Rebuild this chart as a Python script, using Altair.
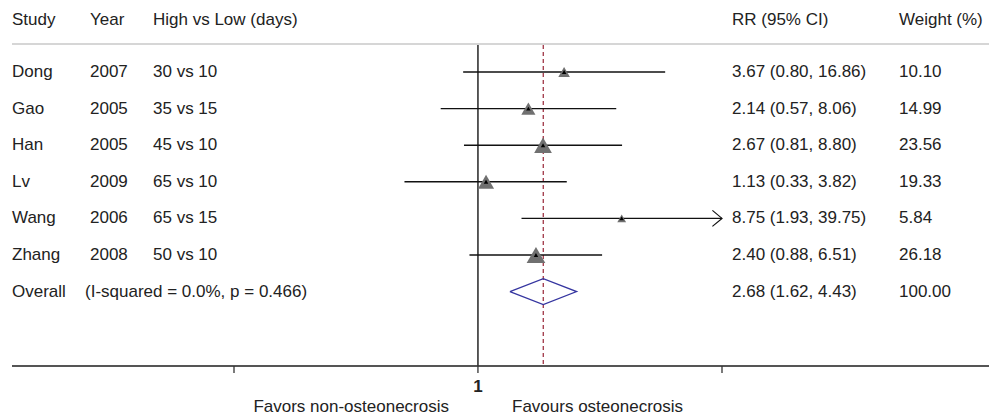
import altair as alt
import pandas as pd

# ---- data ----
study = ["Dong", "Gao", "Han", "Lv", "Wang", "Zhang"]
year = ["2007", "2005", "2005", "2009", "2006", "2008"]
compare = ["30 vs 10", "35 vs 15", "45 vs 10", "65 vs 10", "65 vs 15", "50 vs 10"]
rr = [3.67, 2.14, 2.67, 1.13, 8.75, 2.40]
lo = [0.80, 0.57, 0.81, 0.33, 1.93, 0.88]
hi = [16.86, 8.06, 8.80, 3.82, 39.75, 6.51]
weight = [10.10, 14.99, 23.56, 19.33, 5.84, 26.18]

overall_rr = [2.68]
overall_lo = [1.62]
overall_hi = [4.43]
overall_weight = [100.00]
overall_label = ["Overall", "(I-squared = 0.0%, p = 0.466)"]

tick_values = [0.0252, 1.0, 39.75]
tick_labels = ["", "1", ""]
favor_labels = ["Favors non-osteonecrosis", "Favours osteonecrosis"]
headers = ["Study", "Year", "High vs Low (days)", "RR (95% CI)", "Weight (%)"]

# ---- tables ----
rows = list(range(1, len(study) + 1))
overall_row = len(study) + 1

df = pd.DataFrame({
    "study": study, "year": year, "compare": compare,
    "rr": rr, "lo": lo, "hi": hi, "weight": weight, "row": rows,
})
df["rr_text"] = [f"{a:.2f} ({b:.2f}, {c:.2f})" for a, b, c in zip(rr, lo, hi)]
df["w_text"] = [f"{w:.2f}" for w in weight]

ov = pd.DataFrame({
    "rr": overall_rr, "lo": overall_lo, "hi": overall_hi,
    "row": [overall_row],
    "rr_text": [f"{overall_rr[0]:.2f} ({overall_lo[0]:.2f}, {overall_hi[0]:.2f})"],
    "w_text": [f"{overall_weight[0]:.2f}"],
    "lab1": [overall_label[0]], "lab2": [overall_label[1]],
})

half = 0.355
diamond = pd.DataFrame({
    "x": [overall_lo[0], overall_rr[0], overall_hi[0], overall_rr[0], overall_lo[0]],
    "row": [overall_row, overall_row - half, overall_row, overall_row + half, overall_row],
    "ord": [0, 1, 2, 3, 4],
})

ticks = pd.DataFrame({"x": tick_values, "label": tick_labels})
nullline = pd.DataFrame({"x": [1.0]})

xscale = alt.Scale(type="log", domain=[tick_values[0], tick_values[-1]], range=[234, 722], nice=False)
yscale = alt.Scale(domain=[1, 7], range=[72, 291.6], nice=False, zero=False)

FONT = "Liberation Sans"
FS = 17
TC = "#222222"

def X(f):
    return alt.X(f"{f}:Q", scale=xscale, axis=None)

def Y(f="row"):
    return alt.Y(f"{f}:Q", scale=yscale, axis=None)

base = alt.Chart(df)

header_line = alt.Chart(nullline).mark_rule(color="#c8c8c8", strokeWidth=1.5).encode(
    x=alt.value(12), x2=alt.value(989), y=alt.value(44))
axis_line = alt.Chart(nullline).mark_rule(color="#555555", strokeWidth=2).encode(
    x=alt.value(12), x2=alt.value(989), y=alt.value(366))
tick_marks = alt.Chart(ticks).mark_rule(color="#333333", strokeWidth=1.3).encode(
    x=X("x"), y=alt.value(366), y2=alt.value(373))
tick_text = alt.Chart(ticks).mark_text(font=FONT, fontSize=FS, color=TC, baseline="middle", fontWeight="bold").encode(
    x=X("x"), y=alt.value(387), text="label:N")
null_rule = alt.Chart(nullline).mark_rule(color="#333333", strokeWidth=1.6).encode(
    x=X("x"), y=alt.value(45), y2=alt.value(366))
dash_rule = alt.Chart(ov).mark_rule(color="#a03545", strokeWidth=1.3, strokeDash=[4, 3]).encode(
    x=X("rr"), y=alt.value(45), y2=alt.value(366))

ci = base.mark_rule(color="#111111", strokeWidth=1.4).encode(x=X("lo"), x2="hi:Q", y=Y())
boxes = base.mark_point(shape="triangle-up", filled=True, color="#707070", opacity=1).encode(
    x=X("rr"), y=Y(),
    size=alt.Size("weight:Q", scale=alt.Scale(domain=[0, 30], range=[0, 400]), legend=None))
dots = base.mark_point(shape="triangle-up", filled=True, color="black", size=20, opacity=1).encode(
    x=X("rr"), y=Y())
arrow = base.transform_filter(f"datum.hi >= {tick_values[-1]}").mark_point(
    shape="M-1.2,-1L0,0L-1.2,1", filled=False, color="#111111", strokeWidth=1.2, size=256, opacity=1
).encode(x=X("hi"), y=Y())
dia = alt.Chart(diamond).mark_line(color="#3535a0", strokeWidth=1.3).encode(
    x=X("x"), y=Y(), order="ord:Q")

def col_text(data, field, xpix, **kw):
    return alt.Chart(data).mark_text(font=FONT, fontSize=FS, color=TC, align="left", baseline="middle", **kw).encode(
        x=alt.value(xpix), y=Y(), text=f"{field}:N")

t_study = col_text(df, "study", 12)
t_year = col_text(df, "year", 90)
t_comp = col_text(df, "compare", 153)
t_rr = col_text(df, "rr_text", 732)
t_w = col_text(df, "w_text", 899)
o_lab1 = col_text(ov, "lab1", 12)
o_lab2 = col_text(ov, "lab2", 85)
o_rr = col_text(ov, "rr_text", 732)
o_w = col_text(ov, "w_text", 899)

hdr = pd.DataFrame({"h": headers, "xp": [12, 90, 153, 732, 899]})
header_layers = [
    alt.Chart(hdr[hdr.h == h]).mark_text(font=FONT, fontSize=FS, color=TC, align="left", baseline="middle").encode(
        x=alt.value(xp), y=alt.value(20), text="h:N")
    for h, xp in zip(headers, [12, 90, 153, 732, 899])
]

fav = pd.DataFrame({"t": favor_labels})
fav_left = alt.Chart(fav[fav.t == favor_labels[0]]).mark_text(
    font=FONT, fontSize=FS, color=TC, align="right", baseline="middle").encode(
    x=alt.value(449), y=alt.value(407), text="t:N")
fav_right = alt.Chart(fav[fav.t == favor_labels[1]]).mark_text(
    font=FONT, fontSize=FS, color=TC, align="left", baseline="middle").encode(
    x=alt.value(512), y=alt.value(407), text="t:N")

chart = alt.layer(
    header_line, axis_line, tick_marks, tick_text, null_rule, dash_rule,
    ci, boxes, dots, arrow, dia,
    t_study, t_year, t_comp, t_rr, t_w, o_lab1, o_lab2, o_rr, o_w,
    *header_layers, fav_left, fav_right,
).properties(
    width=996, height=419, padding=0, autosize=alt.AutoSizeParams(type="none"),
    background="white",
).configure_view(stroke=None)

chart.save("out.html", embed_options={"renderer": "svg", "actions": False})
